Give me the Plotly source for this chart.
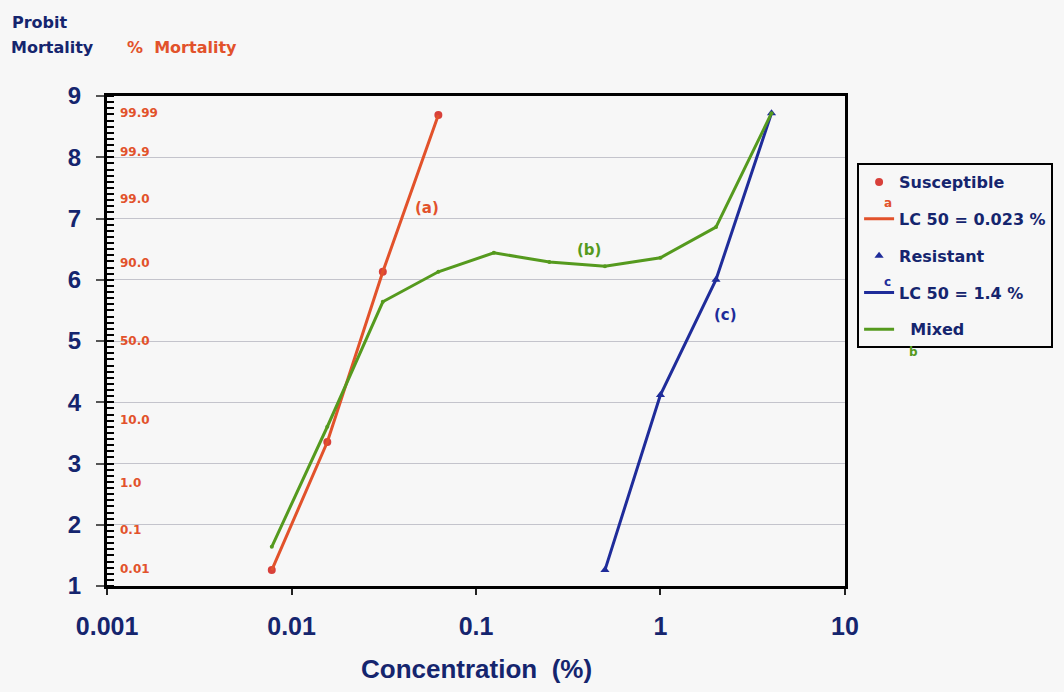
import plotly.graph_objects as go
from statistics import NormalDist

# ---------------- data ----------------
susc_conc = [0.0078125, 0.015625, 0.03125, 0.0625]
susc_probit = [1.26, 3.35, 6.13, 8.69]

resist_conc = [0.5, 1.0, 2.0, 4.0]
resist_probit = [1.26, 4.12, 6.0, 8.72]

mixed_conc = [0.0078125, 0.015625, 0.03125, 0.0625, 0.125, 0.25, 0.5, 1.0, 2.0, 4.0]
mixed_probit = [1.64, 3.6, 5.64, 6.13, 6.44, 6.29, 6.22, 6.36, 6.86, 8.72]

x_tickvals = [0.001, 0.01, 0.1, 1, 10]
x_ticktext = ["0.001", "0.01", "0.1", "1", "10"]

pct_labels = ["99.99", "99.9", "99.0", "90.0", "50.0", "10.0", "1.0", "0.1", "0.01"]
pct_values = [99.99, 99.9, 99.0, 90.0, 50.0, 10.0, 1.0, 0.1, 0.01]

curve_labels = ["(a)", "(b)", "(c)"]
curve_label_logx = [-1.263, -0.386, 0.35]
curve_label_y = [7.17, 6.49, 5.42]

# ---------------- style ----------------
RED = "#e2522b"
RED_DOT = "#d8403a"
BLUE = "#1f2c9a"
GREEN = "#559a1e"
NAVY = "#15256e"
BG = "#f7f7f7"

pct_probits = [NormalDist().inv_cdf(p / 100.0) + 5 for p in pct_values]

fig = go.Figure()

fig.add_trace(go.Scatter(
    x=susc_conc, y=susc_probit, mode="markers", name="Susceptible",
    marker=dict(symbol="circle", size=8, color=RED_DOT),
    legendgroup="g1"))
fig.add_trace(go.Scatter(
    x=susc_conc, y=susc_probit, mode="lines", name="LC 50 = 0.023 %",
    line=dict(color=RED, width=3), legendgroup="g2"))
fig.add_trace(go.Scatter(
    x=resist_conc, y=resist_probit, mode="markers", name="Resistant",
    marker=dict(symbol="triangle-up", size=8, color=BLUE),
    legendgroup="g3"))
fig.add_trace(go.Scatter(
    x=resist_conc, y=resist_probit, mode="lines", name="LC 50 = 1.4 %",
    line=dict(color=BLUE, width=3), legendgroup="g4"))
fig.add_trace(go.Scatter(
    x=mixed_conc, y=mixed_probit, mode="lines", name="  Mixed",
    line=dict(color=GREEN, width=3), legendgroup="g5"))
fig.add_trace(go.Scatter(
    x=mixed_conc, y=mixed_probit, mode="markers", showlegend=False,
    marker=dict(symbol="circle", size=4, color=GREEN), hoverinfo="skip"))

# percent-mortality labels placed on the probit scale
for lab, pr in zip(pct_labels, pct_probits):
    fig.add_annotation(x=0.015, y=pr, xref="paper", yref="y", xanchor="left", yanchor="middle",
                       text=f"<b>{lab}</b>", showarrow=False,
                       font=dict(family="DejaVu Sans", size=12, color=RED))

for txt, lx, ly, col in zip(curve_labels, curve_label_logx, curve_label_y, [RED, GREEN, BLUE]):
    fig.add_annotation(x=lx, y=ly, xref="x", yref="y", text=f"<b>{txt}</b>",
                       showarrow=False, font=dict(family="DejaVu Sans", size=15, color=col))

# small legend letters
for txt, px, py, col in [("a", 1.058, 0.782, RED), ("c", 1.058, 0.620, BLUE), ("b", 1.093, 0.478, GREEN)]:
    fig.add_annotation(x=px, y=py, xref="paper", yref="paper", xanchor="center", yanchor="middle",
                       text=f"<b>{txt}</b>", showarrow=False,
                       font=dict(family="DejaVu Sans", size=12, color=col))

# axis header labels
fig.add_annotation(x=-0.131, y=1.151, xref="paper", yref="paper", xanchor="left", yanchor="middle",
                   text="<b>Probit</b>", showarrow=False,
                   font=dict(family="DejaVu Sans", size=16, color=NAVY))
fig.add_annotation(x=-0.133, y=1.098, xref="paper", yref="paper", xanchor="left", yanchor="middle",
                   text="<b>Mortality</b>", showarrow=False,
                   font=dict(family="DejaVu Sans", size=16, color=NAVY))
fig.add_annotation(x=0.025, y=1.098, xref="paper", yref="paper", xanchor="left", yanchor="middle",
                   text="<b>%  Mortality</b>", showarrow=False,
                   font=dict(family="DejaVu Sans", size=16, color=RED))
fig.add_annotation(x=0.5, y=-0.17, xref="paper", yref="paper", xanchor="center", yanchor="middle",
                   text="<b>Concentration  (%)</b>", showarrow=False,
                   font=dict(family="Liberation Sans, Arial", size=26, color=NAVY))

fig.update_layout(
    width=1064, height=692,
    margin=dict(l=107, r=218, t=96, b=106),
    paper_bgcolor=BG, plot_bgcolor=BG,
    showlegend=True,
    legend=dict(
        x=1.015, y=0.863, xanchor="left", yanchor="top",
        bgcolor=BG, bordercolor="black", borderwidth=2,
        font=dict(family="DejaVu Sans", size=16, color=NAVY, weight="bold"),
        traceorder="grouped", tracegroupgap=13, itemwidth=30,
    ),
    xaxis=dict(
        type="log", range=[-3.0005, 1.0005],
        tickmode="array", tickvals=x_tickvals, ticktext=x_ticktext,
        ticks="outside", ticklen=6, tickwidth=2, tickcolor="#222",
        tickfont=dict(family="Liberation Sans, Arial", size=25, color=NAVY, weight="bold"),
        ticklabelstandoff=10,
        showgrid=False, zeroline=False,
        showline=True, linecolor="black", linewidth=2.5, mirror=True,
    ),
    yaxis=dict(
        range=[1, 9], tickmode="linear", tick0=1, dtick=1,
        ticks="outside", ticklen=8, tickwidth=1.5, tickcolor="#555",
        tickfont=dict(family="Liberation Sans, Arial", size=24, color=NAVY, weight="bold"),
        ticklabelstandoff=10,
        showgrid=True, gridcolor="#c4c4cc", gridwidth=1,
        zeroline=False,
        showline=True, linecolor="black", linewidth=3, mirror=True,
        minor=dict(ticks="inside", ticklen=7, tickmode="linear", tick0=1, dtick=0.1,
                   tickcolor="black", tickwidth=1.6, showgrid=False),
    ),
)

fig.write_html("out.html")
